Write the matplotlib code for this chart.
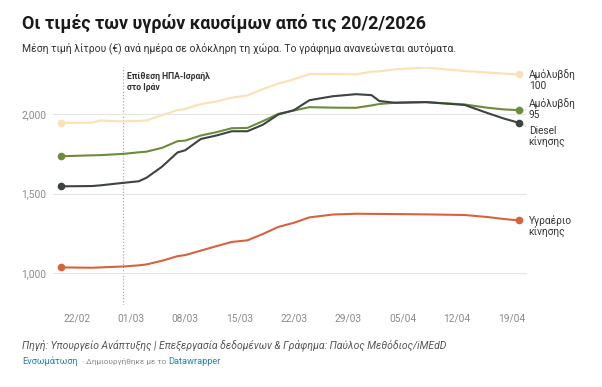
import matplotlib
matplotlib.use("Agg")
import matplotlib.pyplot as plt
import matplotlib.dates as mdates
import pandas as pd

plt.rcParams['font.family'] = ['Roboto', 'DejaVu Sans']

# ημερομηνίες (κοινές για όλες τις σειρές)
dates = pd.to_datetime([
    "2026-02-20", "2026-02-24", "2026-02-25", "2026-02-28", "2026-03-02",
    "2026-03-03", "2026-03-05", "2026-03-07", "2026-03-08", "2026-03-10",
    "2026-03-12", "2026-03-14", "2026-03-16", "2026-03-18", "2026-03-20",
    "2026-03-22", "2026-03-24", "2026-03-27", "2026-03-30", "2026-04-01",
    "2026-04-02", "2026-04-04", "2026-04-08", "2026-04-13", "2026-04-16",
    "2026-04-18", "2026-04-20",
])

amolyvdi_100 = [1.947, 1.948, 1.962, 1.956, 1.960, 1.962, 1.995, 2.027, 2.035, 2.065,
                2.082, 2.106, 2.120, 2.160, 2.195, 2.222, 2.255, 2.255, 2.253, 2.270,
                2.272, 2.285, 2.296, 2.274, 2.265, 2.258, 2.253]
amolyvdi_95 = [1.736, 1.742, 1.743, 1.751, 1.761, 1.765, 1.789, 1.831, 1.835, 1.867,
               1.888, 1.913, 1.915, 1.958, 2.004, 2.025, 2.046, 2.043, 2.042, 2.057,
               2.066, 2.074, 2.078, 2.063, 2.042, 2.032, 2.027]
diesel = [1.546, 1.548, 1.552, 1.568, 1.578, 1.600, 1.670, 1.760, 1.774, 1.845,
          1.867, 1.894, 1.894, 1.935, 2.000, 2.027, 2.090, 2.115, 2.128, 2.122,
          2.085, 2.074, 2.078, 2.060, 2.008, 1.975, 1.947]
ygraerio = [1.034, 1.032, 1.034, 1.040, 1.047, 1.053, 1.076, 1.105, 1.112, 1.140,
            1.168, 1.195, 1.205, 1.245, 1.290, 1.316, 1.350, 1.368, 1.373, 1.372,
            1.372, 1.371, 1.369, 1.365, 1.352, 1.340, 1.331]

labels = ["Αμόλυβδη\n100", "Αμόλυβδη\n95", "Diesel\nκίνησης", "Υγραέριο\nκίνησης"]
xticks = pd.to_datetime(["2026-02-22", "2026-03-01", "2026-03-08", "2026-03-15",
                         "2026-03-22", "2026-03-29", "2026-04-05", "2026-04-12",
                         "2026-04-19"])
yticks = [1.0, 1.5, 2.0]
epithesi = pd.Timestamp("2026-02-28")

colors = ["#fae1b6", "#6b8c3c", "#3d4343", "#d8623d"]
label_dy = [0, 5, -6, 0]  # μετατόπιση ετικετών (pt)

fig = plt.figure(figsize=(6.02, 3.87), dpi=100)
ax = fig.add_axes([0.088, 0.212, 0.787, 0.615])

series = [amolyvdi_100, amolyvdi_95, diesel, ygraerio]
for vals, col, lab, dy in zip(series, colors, labels, label_dy):
    ax.plot(dates, vals, color=col, lw=1.5, solid_capstyle='round',
            solid_joinstyle='round', zorder=3)
    ax.plot([dates[0], dates[-1]], [vals[0], vals[-1]], 'o', color=col, ms=4.5, zorder=4)
    arrow = None
    if dy != 0:
        arrow = dict(arrowstyle='-', color='#bbbbbb', lw=0.6, linestyle=':',
                     shrinkA=0, shrinkB=3)
    ax.annotate(lab, xy=(dates[-1], vals[-1]), xytext=(7, dy + 4),
                textcoords='offset points', ha='left', va='top',
                fontsize=7.3, color='#333333', linespacing=1.15,
                arrowprops=arrow, annotation_clip=False)

ax.axvline(epithesi, color='#aaaaaa', lw=0.9, linestyle=(0, (1, 1.5)), zorder=1)
ax.text(epithesi + pd.Timedelta(hours=12), 2.27, "Επίθεση ΗΠΑ-Ισραήλ\nστο Ιράν",
        fontsize=6.2, fontweight='bold', color='#333333', va='top', ha='left',
        linespacing=1.3)

ax.set_ylim(0.797, 2.30)
ax.set_xlim(pd.Timestamp("2026-02-19") - pd.Timedelta(hours=1),
            pd.Timestamp("2026-04-21"))
ax.set_yticks(yticks)
ax.set_yticklabels([f"{v:.3f}".replace('.', ',') for v in yticks])
ax.set_xticks(xticks)
ax.xaxis.set_major_formatter(mdates.DateFormatter("%d/%m"))
ax.grid(axis='y', color='#e5e5e5', lw=0.8, zorder=0)
ax.tick_params(axis='both', length=0, labelsize=7.3, labelcolor='#8a8a8a')
ax.tick_params(axis='y', pad=5)
ax.tick_params(axis='x', pad=6)
for s in ax.spines.values():
    s.set_visible(False)

fig.text(0.037, 0.925, "Οι τιμές των υγρών καυσίμων από τις 20/2/2026",
         fontsize=12.9, fontweight='bold', color='#1a1a1a', va='baseline')
fig.text(0.037, 0.868, "Μέση τιμή λίτρου (€) ανά ημέρα σε ολόκληρη τη χώρα. "
         "Το γράφημα ανανεώνεται αυτόματα.",
         fontsize=7.45, color='#333333', va='baseline')
fig.text(0.037, 0.100, "Πηγή: Υπουργείο Ανάπτυξης | Επεξεργασία δεδομένων & Γράφημα: "
         "Παύλος Μεθόδιος/iMEdD",
         fontsize=7.5, style='italic', color='#555555', va='baseline')
t1 = fig.text(0.037, 0.060, "Ενσωμάτωση", fontsize=6.7, color='#1d87b8', va='baseline')
fig.canvas.draw()
r = fig.canvas.get_renderer()
bb = t1.get_window_extent(r)
t2 = fig.text(bb.x1 / fig.bbox.width + 0.006, 0.060, "· Δημιουργήθηκε με το",
              fontsize=5.9, color='#888888', va='baseline')
bb2 = t2.get_window_extent(r)
fig.text(bb2.x1 / fig.bbox.width + 0.004, 0.060, "Datawrapper", fontsize=6.7,
         color='#1d87b8', va='baseline')

fig.savefig("out.png", dpi=100)
